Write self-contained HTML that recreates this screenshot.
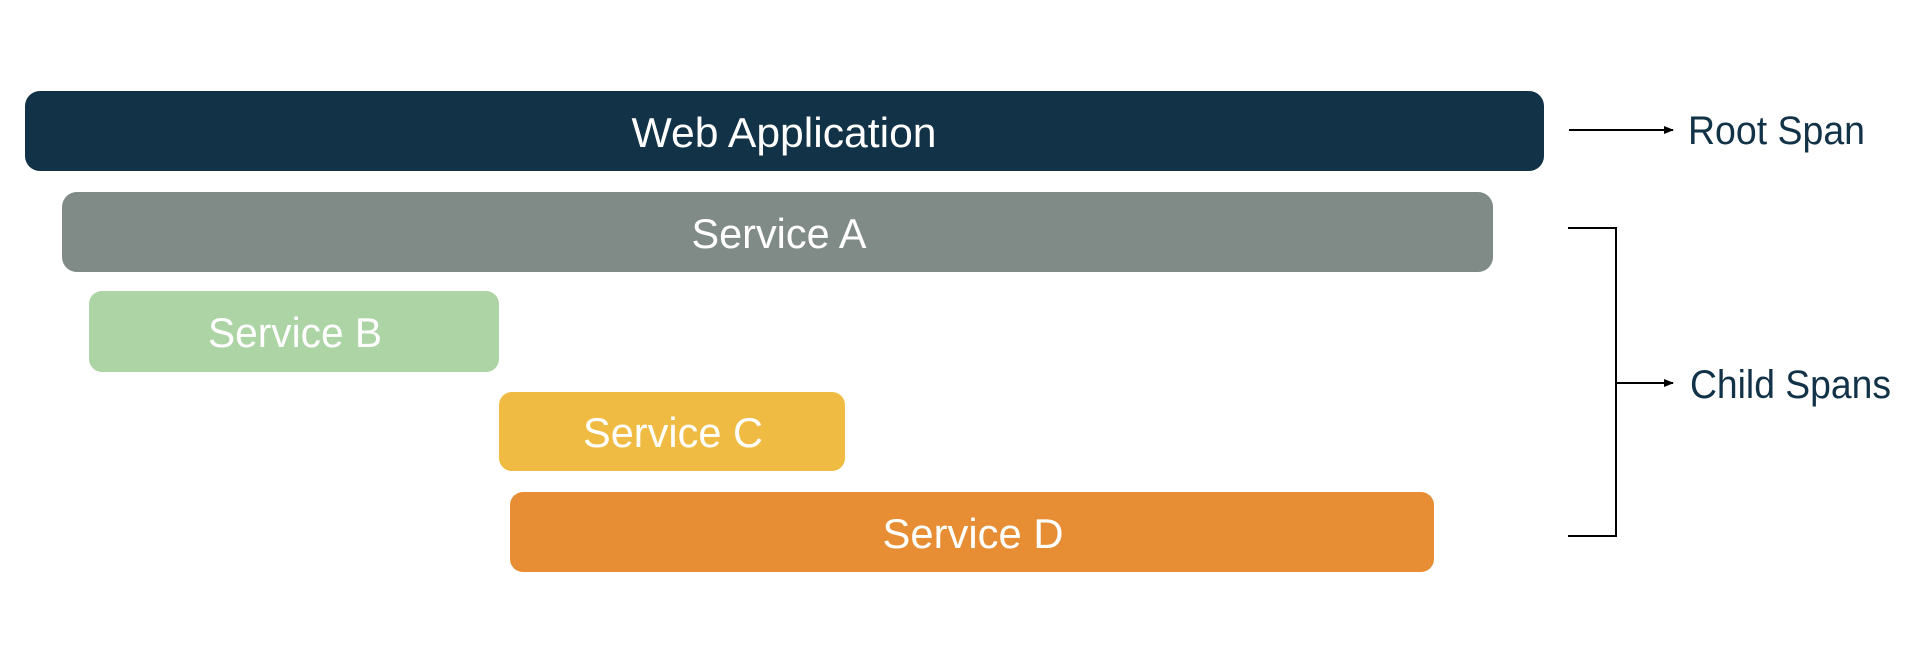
<!DOCTYPE html>
<html><head><meta charset="utf-8"><style>
html,body{margin:0;padding:0;background:#fff;}
svg{display:block;}
text{font-family:"Liberation Sans",sans-serif;}
</style></head><body>
<svg width="1919" height="664" viewBox="0 0 1919 664" xmlns="http://www.w3.org/2000/svg">
<defs><marker id="ah" markerWidth="10" markerHeight="8" refX="9" refY="4" orient="auto" markerUnits="userSpaceOnUse"><path d="M0,0 L10,4 L0,8 z" fill="#000"/></marker></defs>
<rect x="25" y="91" width="1519" height="80" rx="15" fill="#113247"/>
<rect x="62" y="192" width="1431" height="80" rx="15" fill="#808a87"/>
<rect x="89" y="291" width="410" height="81" rx="13" fill="#acd4a4"/>
<rect x="499" y="392" width="346" height="79" rx="13" fill="#f0bb43"/>
<rect x="510" y="492" width="924" height="80" rx="13" fill="#e78e35"/>
<g fill="#fff" font-size="42" text-anchor="middle">
<text x="784" y="147" textLength="305" lengthAdjust="spacingAndGlyphs">Web Application</text>
<text x="779" y="248" textLength="175" lengthAdjust="spacingAndGlyphs">Service A</text>
<text x="295" y="347" textLength="174" lengthAdjust="spacingAndGlyphs">Service B</text>
<text x="673" y="447" textLength="180" lengthAdjust="spacingAndGlyphs">Service C</text>
<text x="973" y="548" textLength="181" lengthAdjust="spacingAndGlyphs">Service D</text>
</g>
<line x1="1569" y1="130" x2="1673" y2="130" stroke="#000" stroke-width="2" marker-end="url(#ah)"/>
<path d="M1568,228 H1616 V536 H1568" fill="none" stroke="#000" stroke-width="2"/>
<line x1="1616" y1="383" x2="1673" y2="383" stroke="#000" stroke-width="2" marker-end="url(#ah)"/>
<g fill="#113247" font-size="40">
<text x="1688" y="144" textLength="177" lengthAdjust="spacingAndGlyphs">Root Span</text>
<text x="1690" y="398" textLength="201" lengthAdjust="spacingAndGlyphs">Child Spans</text>
</g>
</svg>
</body></html>
